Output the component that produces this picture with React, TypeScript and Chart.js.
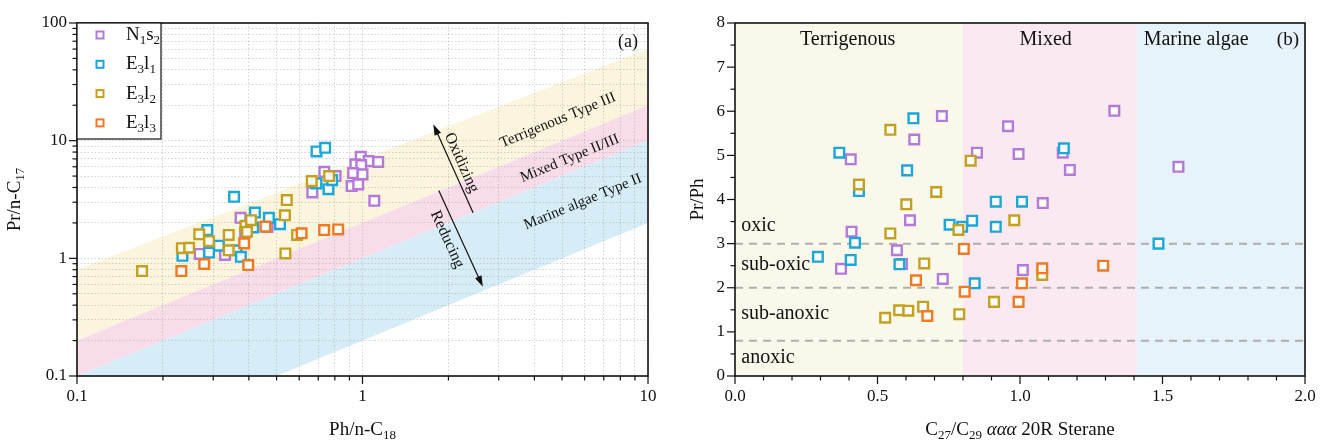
import React, { useEffect, useRef } from 'react';
import { Chart, registerables } from 'chart.js';
Chart.register(...registerables);

const FONT = '"Liberation Serif", "Times New Roman", serif';
const INK = '#111';

// ---------- series ----------
const seriesColors = ['#b47ad9', '#1ba7d8', '#c3a11d', '#f07a22'];
type Seg = { t: string; sub?: boolean; italic?: boolean };
const seriesLabels: Seg[][] = [
  [{ t: 'N' }, { t: '1', sub: true }, { t: 's' }, { t: '2', sub: true }],
  [{ t: 'E' }, { t: '3', sub: true }, { t: 'l' }, { t: '1', sub: true }],
  [{ t: 'E' }, { t: '3', sub: true }, { t: 'l' }, { t: '2', sub: true }],
  [{ t: 'E' }, { t: '3', sub: true }, { t: 'l' }, { t: '3', sub: true }],
];

// ---------- (a) Ph/n-C18 vs Pr/n-C17 ----------
const aN1s2X = [0.986, 1.05, 1.135, 0.944, 0.99, 0.927, 1.0, 0.735, 0.805, 0.916, 0.966, 0.667, 1.10, 0.374, 0.465, 0.388, 0.269, 0.33];
const aN1s2Y = [7.3, 6.7, 6.6, 6.3, 6.2, 5.3, 5.17, 5.43, 5.0, 4.11, 4.25, 3.63, 3.08, 2.21, 1.85, 1.66, 1.09, 1.07];
const aE3l1X = [0.69, 0.74, 0.69, 0.76, 0.783, 0.355, 0.42, 0.47, 0.514, 0.414, 0.286, 0.314, 0.29, 0.234, 0.362, 0.375];
const aE3l1Y = [8.1, 8.7, 4.33, 3.87, 4.62, 3.33, 2.45, 2.21, 1.95, 1.83, 1.74, 1.28, 1.12, 1.05, 1.17, 1.03];
const aE3l2X = [0.169, 0.233, 0.247, 0.268, 0.29, 0.34, 0.34, 0.389, 0.394, 0.407, 0.543, 0.535, 0.537, 0.59, 0.664, 0.764];
const aE3l2Y = [0.78, 1.22, 1.23, 1.6, 1.4, 1.58, 1.17, 1.89, 1.68, 2.11, 3.13, 2.32, 1.1, 1.58, 4.53, 5.0];
const aE3l3X = [0.232, 0.279, 0.398, 0.385, 0.457, 0.612, 0.734, 0.822];
const aE3l3Y = [0.78, 0.895, 0.877, 1.34, 1.86, 1.63, 1.74, 1.76];

const aXTickLabels = ['0.1', '1', '10'];
const aYTickLabels = ['0.1', '1', '10', '100'];

// band edges (Pr/n-C17 at Ph/n-C18 = 0.1 and 10)
const bandX = [0.1, 10];
const terrigenousTop = [0.8, 60];
const terrigenousBottom = [0.2, 20];
const mixedBottom = [0.1, 10];
const marineBottom = [0.02, 2];
const bandColors = ['#faf5dc', '#f8dcea', '#d6edf8'];
const bandNames = ['Terrigenous Type III', 'Mixed Type II/III', 'Marine algae Type II'];
const bandLabelX = [4.84, 5.32, 5.91];
const bandLabelY = [14.9, 7.06, 3.02];
const oxidizingArrow = { from: [2.44, 2.44], to: [1.77, 13.8], label: [2.22, 6.5] };
const reducingArrow = { from: [1.85, 3.78], to: [2.64, 0.574], label: [1.98, 1.45] };
const panelALabelPos = [8.51, 69];

// ---------- (b) C27/C29 sterane vs Pr/Ph ----------
const bN1s2X = [0.726, 1.331, 0.958, 0.629, 0.849, 0.995, 1.15, 0.406, 1.175, 1.556, 1.08, 0.614, 0.409, 0.568, 0.586, 0.372, 1.01, 0.729];
const bN1s2Y = [5.89, 6.01, 5.66, 5.36, 5.06, 5.03, 5.06, 4.91, 4.67, 4.74, 3.92, 3.53, 3.27, 2.85, 2.54, 2.43, 2.4, 2.2];
const bE3l1X = [0.626, 0.366, 1.154, 0.604, 0.435, 0.915, 1.007, 0.832, 0.753, 0.797, 0.915, 0.421, 1.486, 0.291, 0.406, 0.577, 0.841];
const bE3l1Y = [5.84, 5.06, 5.16, 4.66, 4.19, 3.95, 3.95, 3.52, 3.43, 3.38, 3.38, 3.02, 3.0, 2.7, 2.63, 2.53, 2.1];
const bE3l2X = [0.545, 0.827, 0.435, 0.706, 0.601, 0.98, 0.545, 0.784, 0.664, 1.078, 0.909, 0.66, 0.576, 0.608, 0.787, 0.527];
const bE3l2Y = [5.58, 4.88, 4.34, 4.17, 3.89, 3.53, 3.23, 3.31, 2.55, 2.29, 1.68, 1.57, 1.49, 1.48, 1.4, 1.32];
const bE3l3X = [0.803, 1.078, 1.292, 0.635, 1.007, 0.806, 0.995, 0.675];
const bE3l3Y = [2.88, 2.44, 2.5, 2.17, 2.1, 1.91, 1.68, 1.36];

const regionBounds = [0, 0.8, 1.41, 2.0];
const regionColors = ['#faf8ea', '#fbe9f1', '#e6f3fb'];
const regionNames = ['Terrigenous', 'Mixed', 'Marine algae'];
const regionLabelX = [0.395, 1.09, 1.618];
const regionLabelY = 7.62;
const redoxThresholds = [3, 2, 0.8];
const redoxNames = ['oxic', 'sub-oxic', 'sub-anoxic', 'anoxic'];
const redoxLabelY = [3.4, 2.51, 1.42, 0.42];
const redoxLabelX = 0.022;
const panelBLabelPos = [1.94, 7.62];

// ---------- helpers ----------
function font(size: number, italic = false) {
  return `${italic ? 'italic ' : ''}${size}px ${FONT}`;
}
function drawRich(ctx: CanvasRenderingContext2D, segs: Seg[], x: number, y: number, size: number, rotate = 0, align: 'center' | 'left' = 'center') {
  ctx.save();
  ctx.translate(x, y);
  ctx.rotate(rotate);
  ctx.textBaseline = 'middle';
  ctx.textAlign = 'left';
  ctx.fillStyle = INK;
  const sz = (s: Seg) => (s.sub ? Math.round(size * 0.68) : size);
  const widths = segs.map((s) => {
    ctx.font = font(sz(s), s.italic);
    return ctx.measureText(s.t).width;
  });
  const total = widths.reduce((a, b) => a + b, 0);
  let cx = align === 'center' ? -total / 2 : 0;
  segs.forEach((s, i) => {
    ctx.font = font(sz(s), s.italic);
    ctx.fillText(s.t, cx, s.sub ? size * 0.3 : 0);
    cx += widths[i];
  });
  ctx.restore();
}
function drawText(ctx: CanvasRenderingContext2D, t: string, x: number, y: number, size: number, rotate = 0, align: CanvasTextAlign = 'center') {
  ctx.save();
  ctx.translate(x, y);
  ctx.rotate(rotate);
  ctx.font = font(size);
  ctx.fillStyle = INK;
  ctx.textAlign = align;
  ctx.textBaseline = 'middle';
  ctx.fillText(t, 0, 0);
  ctx.restore();
}
function arrow(ctx: CanvasRenderingContext2D, x1: number, y1: number, x2: number, y2: number) {
  const ang = Math.atan2(y2 - y1, x2 - x1);
  const hl = 11, hw = 3.5;
  ctx.save();
  ctx.strokeStyle = INK;
  ctx.fillStyle = INK;
  ctx.lineWidth = 1.2;
  ctx.beginPath();
  ctx.moveTo(x1, y1);
  ctx.lineTo(x2 - Math.cos(ang) * hl * 0.8, y2 - Math.sin(ang) * hl * 0.8);
  ctx.stroke();
  ctx.beginPath();
  ctx.moveTo(x2, y2);
  ctx.lineTo(x2 - Math.cos(ang) * hl + Math.sin(ang) * hw, y2 - Math.sin(ang) * hl - Math.cos(ang) * hw);
  ctx.lineTo(x2 - Math.cos(ang) * hl - Math.sin(ang) * hw, y2 - Math.sin(ang) * hl + Math.cos(ang) * hw);
  ctx.closePath();
  ctx.fill();
  ctx.restore();
}
function logTicks(min: number, max: number) {
  const out: number[] = [];
  for (let d = Math.round(Math.log10(min)); d < Math.round(Math.log10(max)); d++) {
    for (let k = 1; k <= 9; k++) out.push(Number((k * Math.pow(10, d)).toPrecision(10)));
  }
  out.push(max);
  return out;
}
const isPow10 = (v: number) => Math.abs(Math.log10(v) - Math.round(Math.log10(v))) < 1e-9;
const fmt = (v: number) => String(Number(Number(v).toPrecision(6)));

function makeDatasets(xs: number[][], ys: number[][]) {
  return xs.map((xv, i) => ({
    label: 'series' + i,
    data: xv.map((x, j) => ({ x, y: ys[i][j] })),
    pointStyle: 'rect' as const,
    pointRadius: 6.8,
    pointHoverRadius: 6.8,
    pointBorderWidth: 2.4,
    borderColor: seriesColors[i],
    backgroundColor: 'rgba(255,255,255,0.9)',
    showLine: false,
    order: 4 - i,
  }));
}

function drawFrame(ctx: CanvasRenderingContext2D, a: any) {
  ctx.save();
  ctx.strokeStyle = INK;
  ctx.lineWidth = 1.6;
  ctx.strokeRect(a.left, a.top, a.right - a.left, a.bottom - a.top);
  ctx.restore();
}
function tickMark(ctx: CanvasRenderingContext2D, x1: number, y1: number, x2: number, y2: number) {
  ctx.beginPath();
  ctx.moveTo(x1, y1);
  ctx.lineTo(x2, y2);
  ctx.stroke();
}
function noScalePadding(s: any) {
  s.paddingLeft = 0;
  s.paddingRight = 0;
  s.paddingTop = 0;
  s.paddingBottom = 0;
}

// ---------- plugins ----------
const leftPlugin = {
  id: 'leftDecor',
  beforeDraw(chart: any) {
    const { ctx, chartArea: a } = chart;
    const X = (v: number) => chart.scales.x.getPixelForValue(v);
    const Y = (v: number) => chart.scales.y.getPixelForValue(v);
    ctx.save();
    ctx.fillStyle = '#fff';
    ctx.fillRect(0, 0, chart.width, chart.height);
    ctx.beginPath();
    ctx.rect(a.left, a.top, a.right - a.left, a.bottom - a.top);
    ctx.clip();
    const edges = [terrigenousTop, terrigenousBottom, mixedBottom, marineBottom];
    for (let i = 0; i < 3; i++) {
      const up = edges[i], lo = edges[i + 1];
      ctx.beginPath();
      ctx.moveTo(X(bandX[0]), Y(up[0]));
      ctx.lineTo(X(bandX[1]), Y(up[1]));
      ctx.lineTo(X(bandX[1]), Y(lo[1]));
      ctx.lineTo(X(bandX[0]), Y(lo[0]));
      ctx.closePath();
      ctx.fillStyle = bandColors[i];
      ctx.fill();
    }
    ctx.restore();
  },
  beforeDatasetsDraw(chart: any) {
    const { ctx } = chart;
    const X = (v: number) => chart.scales.x.getPixelForValue(v);
    const Y = (v: number) => chart.scales.y.getPixelForValue(v);
    const ang = Math.atan2(Y(10) - Y(1), X(10) - X(1));
    bandNames.forEach((n, i) => drawText(ctx, n, X(bandLabelX[i]), Y(bandLabelY[i]), 15, ang));
    const o = oxidizingArrow, r = reducingArrow;
    arrow(ctx, X(o.from[0]), Y(o.from[1]), X(o.to[0]), Y(o.to[1]));
    arrow(ctx, X(r.from[0]), Y(r.from[1]), X(r.to[0]), Y(r.to[1]));
    const oa = Math.atan2(Y(o.from[1]) - Y(o.to[1]), X(o.from[0]) - X(o.to[0]));
    const ra = Math.atan2(Y(r.to[1]) - Y(r.from[1]), X(r.to[0]) - X(r.from[0]));
    drawText(ctx, 'Oxidizing', X(o.label[0]), Y(o.label[1]), 16, oa);
    drawText(ctx, 'Reducing', X(r.label[0]), Y(r.label[1]), 16, ra);
    drawText(ctx, '(a)', X(panelALabelPos[0]), Y(panelALabelPos[1]), 18);
  },
  afterDraw(chart: any) {
    const { ctx, chartArea: a } = chart;
    drawFrame(ctx, a);
    ctx.save();
    ctx.strokeStyle = INK;
    ctx.lineWidth = 1.2;
    chart.scales.x.ticks.forEach((t: any) => {
      const x = chart.scales.x.getPixelForValue(t.value);
      tickMark(ctx, x, a.bottom, x, a.bottom + (isPow10(t.value) ? 8 : 4.5));
    });
    chart.scales.y.ticks.forEach((t: any) => {
      const y = chart.scales.y.getPixelForValue(t.value);
      tickMark(ctx, a.left, y, a.left - (isPow10(t.value) ? 8 : 4.5), y);
    });
    ctx.restore();
    // legend
    const lx = a.left, ly = a.top, lw = 84, lh = 116;
    ctx.save();
    ctx.fillStyle = '#fff';
    ctx.fillRect(lx, ly, lw, lh);
    ctx.strokeStyle = INK;
    ctx.lineWidth = 1.2;
    ctx.strokeRect(lx, ly, lw, lh);
    seriesLabels.forEach((segs, i) => {
      const cy = ly + 12 + i * 29.3;
      ctx.strokeStyle = seriesColors[i];
      ctx.lineWidth = 2;
      ctx.fillStyle = '#fff';
      ctx.fillRect(lx + 19.5, cy - 3.5, 7, 7);
      ctx.strokeRect(lx + 19.5, cy - 3.5, 7, 7);
      drawRich(ctx, segs, lx + 49, cy, 19, 0, 'left');
    });
    ctx.restore();
    drawRich(ctx, [{ t: 'Pr/n-C' }, { t: '17', sub: true }], a.left - 62, (a.top + a.bottom) / 2, 19, -Math.PI / 2);
    drawRich(ctx, [{ t: 'Ph/n-C' }, { t: '18', sub: true }], (a.left + a.right) / 2, a.bottom + 54, 19);
  },
};

const rightPlugin = {
  id: 'rightDecor',
  beforeDraw(chart: any) {
    const { ctx, chartArea: a } = chart;
    const X = (v: number) => chart.scales.x.getPixelForValue(v);
    ctx.save();
    ctx.fillStyle = '#fff';
    ctx.fillRect(0, 0, chart.width, chart.height);
    for (let i = 0; i < regionNames.length; i++) {
      ctx.fillStyle = regionColors[i];
      ctx.fillRect(X(regionBounds[i]), a.top, X(regionBounds[i + 1]) - X(regionBounds[i]), a.bottom - a.top);
    }
    ctx.restore();
  },
  beforeDatasetsDraw(chart: any) {
    const { ctx, chartArea: a } = chart;
    const X = (v: number) => chart.scales.x.getPixelForValue(v);
    const Y = (v: number) => chart.scales.y.getPixelForValue(v);
    ctx.save();
    ctx.strokeStyle = '#aeaeae';
    ctx.lineWidth = 2;
    ctx.setLineDash([8, 6]);
    redoxThresholds.forEach((v) => {
      ctx.beginPath();
      ctx.moveTo(a.left, Y(v));
      ctx.lineTo(a.right, Y(v));
      ctx.stroke();
    });
    ctx.restore();
    regionNames.forEach((n, i) => drawText(ctx, n, X(regionLabelX[i]), Y(regionLabelY), 20));
    drawText(ctx, '(b)', X(panelBLabelPos[0]), Y(panelBLabelPos[1]), 19);
    redoxNames.forEach((n, i) => drawText(ctx, n, X(redoxLabelX), Y(redoxLabelY[i]), 20, 0, 'left'));
  },
  afterDraw(chart: any) {
    const { ctx, chartArea: a } = chart;
    const X = (v: number) => chart.scales.x.getPixelForValue(v);
    const Y = (v: number) => chart.scales.y.getPixelForValue(v);
    drawFrame(ctx, a);
    ctx.save();
    ctx.strokeStyle = INK;
    ctx.lineWidth = 1.2;
    for (let k = 0; k <= 20; k++) {
      const x = X(k / 10);
      tickMark(ctx, x, a.bottom, x, a.bottom + (k % 5 === 0 ? 8 : 4.5));
    }
    for (let k = 0; k <= 16; k++) {
      const y = Y(k / 2);
      tickMark(ctx, a.left, y, a.left - (k % 2 === 0 ? 8 : 4.5), y);
    }
    ctx.restore();
    drawRich(ctx, [{ t: 'Pr/Ph' }], a.left - 37, (a.top + a.bottom) / 2, 19, -Math.PI / 2);
    drawRich(
      ctx,
      [{ t: 'C' }, { t: '27', sub: true }, { t: '/C' }, { t: '29', sub: true }, { t: ' ' }, { t: 'ααα', italic: true }, { t: ' 20R Sterane' }],
      (a.left + a.right) / 2,
      a.bottom + 54,
      19
    );
  },
};

const tickFont = { family: FONT, size: 17 };

function leftConfig(): any {
  return {
    type: 'scatter',
    data: {
      datasets: makeDatasets([aN1s2X, aE3l1X, aE3l2X, aE3l3X], [aN1s2Y, aE3l1Y, aE3l2Y, aE3l3Y]),
    },
    options: {
      responsive: false,
      animation: false,
      devicePixelRatio: 1,
      layout: { padding: { top: 23, right: 12, left: 0, bottom: 0 } },
      plugins: { legend: { display: false }, tooltip: { enabled: false } },
      scales: {
        x: {
          type: 'logarithmic',
          min: 0.1,
          max: 10,
          afterBuildTicks: (s: any) => {
            s.ticks = logTicks(0.1, 10).map((v) => ({ value: v }));
          },
          afterFit: (s: any) => {
            s.height = 64;
            noScalePadding(s);
          },
          ticks: {
            autoSkip: false,
            maxRotation: 0,
            padding: 10,
            color: INK,
            font: tickFont,
            callback: (v: any) => (aXTickLabels.includes(fmt(v)) ? fmt(v) : ''),
          },
          grid: { color: 'rgba(160,160,160,0.45)', lineWidth: 1, drawTicks: false },
          border: { display: false, dash: [1.5, 2] },
        },
        y: {
          type: 'logarithmic',
          min: 0.1,
          max: 100,
          afterBuildTicks: (s: any) => {
            s.ticks = logTicks(0.1, 100).map((v) => ({ value: v }));
          },
          afterFit: (s: any) => {
            s.width = 77;
            noScalePadding(s);
          },
          ticks: {
            autoSkip: false,
            padding: 10,
            color: INK,
            font: tickFont,
            callback: (v: any) => (aYTickLabels.includes(fmt(v)) ? fmt(v) : ''),
          },
          grid: { color: 'rgba(160,160,160,0.45)', lineWidth: 1, drawTicks: false },
          border: { display: false, dash: [1.5, 2] },
        },
      },
    },
    plugins: [leftPlugin],
  };
}

function rightConfig(): any {
  return {
    type: 'scatter',
    data: {
      datasets: makeDatasets([bN1s2X, bE3l1X, bE3l2X, bE3l3X], [bN1s2Y, bE3l1Y, bE3l2Y, bE3l3Y]),
    },
    options: {
      responsive: false,
      animation: false,
      devicePixelRatio: 1,
      layout: { padding: { top: 23, right: 15, left: 0, bottom: 0 } },
      plugins: { legend: { display: false }, tooltip: { enabled: false } },
      scales: {
        x: {
          type: 'linear',
          min: 0,
          max: 2,
          afterFit: (s: any) => {
            s.height = 64;
            noScalePadding(s);
          },
          ticks: {
            stepSize: 0.5,
            autoSkip: false,
            maxRotation: 0,
            padding: 10,
            color: INK,
            font: tickFont,
            callback: (v: any) => Number(v).toFixed(1),
          },
          grid: { display: false, drawTicks: false },
          border: { display: false },
        },
        y: {
          type: 'linear',
          min: 0,
          max: 8,
          afterFit: (s: any) => {
            s.width = 75;
            noScalePadding(s);
          },
          ticks: {
            stepSize: 1,
            padding: 10,
            color: INK,
            font: tickFont,
            callback: (v: any) => String(v),
          },
          grid: { display: false, drawTicks: false },
          border: { display: false },
        },
      },
    },
    plugins: [rightPlugin],
  };
}

export default function App() {
  const leftRef = useRef<HTMLCanvasElement>(null);
  const rightRef = useRef<HTMLCanvasElement>(null);
  useEffect(() => {
    const c1 = new Chart(leftRef.current as HTMLCanvasElement, leftConfig());
    const c2 = new Chart(rightRef.current as HTMLCanvasElement, rightConfig());
    return () => {
      c1.destroy();
      c2.destroy();
    };
  }, []);
  return (
    <div style={{ position: 'absolute', left: 0, top: 0, width: 1320, height: 440, background: '#fff', overflow: 'hidden' }}>
      <canvas ref={leftRef} width={660} height={440} style={{ position: 'absolute', left: 0, top: 0, width: 660, height: 440 }} />
      <canvas ref={rightRef} width={660} height={440} style={{ position: 'absolute', left: 660, top: 0, width: 660, height: 440 }} />
    </div>
  );
}
